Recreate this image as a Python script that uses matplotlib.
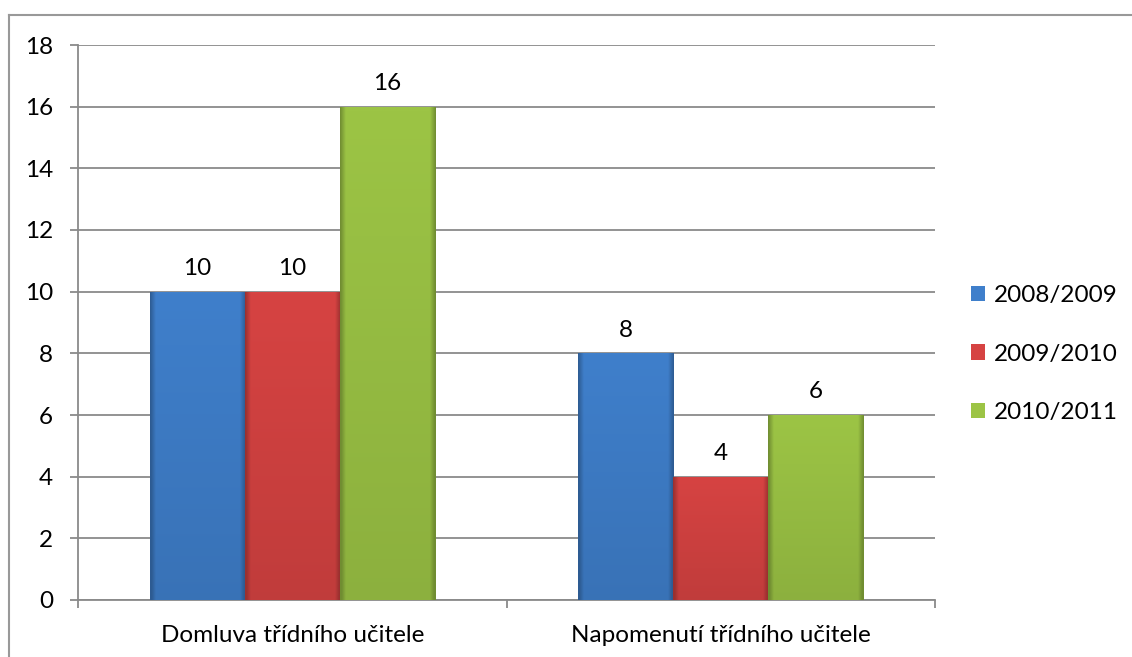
import numpy as np
import matplotlib
matplotlib.use('Agg')
import matplotlib.pyplot as plt
from matplotlib.colors import LinearSegmentedColormap, to_rgb
from matplotlib.lines import Line2D

# data
categories = ['Domluva třídního učitele', 'Napomenutí třídního učitele']
years = ['2008/2009', '2009/2010', '2010/2011']
values_0809 = [10, 8]
values_0910 = [10, 4]
values_1011 = [16, 6]
colors = ['#3F7FCB', '#D64342', '#9CC445']

plt.rcParams['font.family'] = ['Lato', 'DejaVu Sans']
fontsize = 17.5
grid_col = '#8A8A8A'

fig = plt.figure(figsize=(11.32, 6.57), dpi=100)
ax = fig.add_axes([78/1132, 1 - 600/657, (935-78)/1132, (600-45)/657])

x = np.arange(len(categories))
width = 0.222
series = [values_0809, values_0910, values_1011]


def shade(c, f):
    r, g, b = to_rgb(c)
    return (r*f, g*f, b*f)


# horizontal bevel-like gradient
xs = np.linspace(0, 1, 200)
prof = np.clip(np.minimum(xs, 1 - xs) / 0.06, 0, 1)
prof = 0.72 + 0.28 * prof

for i, (vals, col) in enumerate(zip(series, colors)):
    bars = ax.bar(x + (i - 1) * width, vals, width, color=col, label=years[i],
                  edgecolor='none', zorder=3)
    cmap = LinearSegmentedColormap.from_list('c%d' % i, [shade(col, 0.72), col])
    for b in bars:
        x0, y0 = b.get_x(), b.get_y()
        w, h = b.get_width(), b.get_height()
        grad = np.tile(prof, (50, 1))
        vert = np.linspace(1.0, 0.9, 50)[:, None]
        img = ax.imshow(grad * vert, cmap=cmap, vmin=0.72, vmax=1.0,
                        extent=[x0, x0 + w, y0, y0 + h], origin='upper',
                        aspect='auto', zorder=3.5, interpolation='bilinear')
        img.set_clip_path(b)
    ax.bar_label(bars, padding=9, fontsize=fontsize, zorder=5)

ax.set_xlim(-0.5, 1.5)
ax.set_ylim(0, 18)
ax.set_yticks(np.arange(0, 19, 2))
ax.yaxis.grid(True, color=grid_col, linewidth=1.3, zorder=0)
ax.set_axisbelow(True)

ax.set_xticks([-0.5, 0.5, 1.5])
ax.set_xticklabels([])
ax.set_xticks(x, minor=True)
ax.set_xticklabels(categories, minor=True, fontsize=fontsize)
ax.tick_params(axis='x', which='minor', length=0, pad=18)
ax.tick_params(axis='x', which='major', length=6, color=grid_col, width=1.3)
ax.tick_params(axis='y', length=6, color=grid_col, width=1.3, pad=12,
               labelsize=fontsize)

for s in ['top', 'right']:
    ax.spines[s].set_visible(False)
for s in ['left', 'bottom']:
    ax.spines[s].set_color(grid_col)
    ax.spines[s].set_linewidth(1.3)

ax.legend(loc='center left', bbox_to_anchor=(949/1132, 1 - 354/657),
          bbox_transform=fig.transFigure, frameon=False, fontsize=fontsize,
          handlelength=0.6, handleheight=0.6, handletextpad=0.35,
          labelspacing=1.55)

# outer chart border
fig.add_artist(Line2D([9/1132, 9/1132], [0, 1 - 15/657], color='#999999',
                      linewidth=1.5, transform=fig.transFigure))
fig.add_artist(Line2D([9/1132, 1], [1 - 15/657, 1 - 15/657], color='#999999',
                      linewidth=1.5, transform=fig.transFigure))

plt.savefig('out.png', dpi=100)
